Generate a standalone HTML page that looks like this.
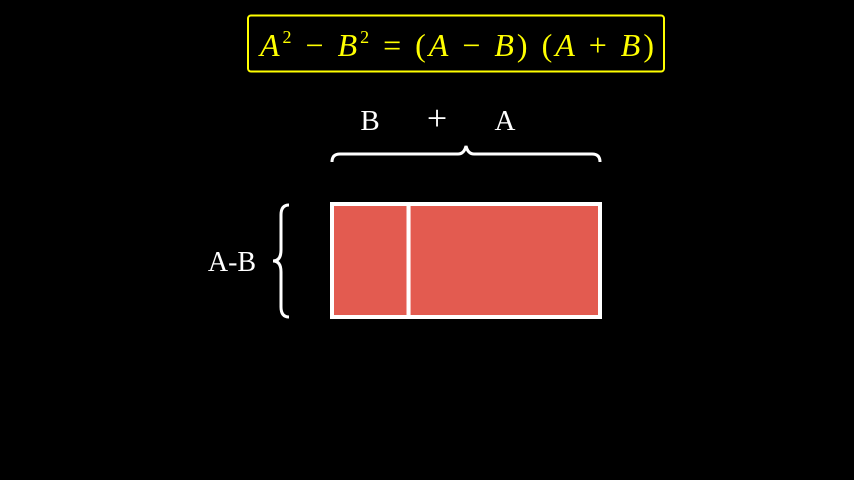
<!DOCTYPE html>
<html><head><meta charset="utf-8"><style>
html,body{margin:0;padding:0;background:#000;width:854px;height:480px;overflow:hidden}
svg{display:block}
text{font-family:"Liberation Serif",serif}
</style></head><body>
<svg id="c" width="854" height="480" viewBox="0 0 854 480">
<rect x="248" y="15.5" width="416" height="56" rx="3" fill="none" stroke="#ffff00" stroke-width="2"/>
<text x="260" y="56" textLength="394" lengthAdjust="spacing" fill="#ffff00" font-size="32"><tspan font-style="italic">A</tspan><tspan font-size="18" dy="-13">2</tspan><tspan dy="13"> − </tspan><tspan font-style="italic">B</tspan><tspan font-size="18" dy="-13">2</tspan><tspan dy="13"> = (</tspan><tspan font-style="italic">A</tspan> − <tspan font-style="italic">B</tspan>) (<tspan font-style="italic">A</tspan> + <tspan font-style="italic">B</tspan>)</text>
<g id="top-labels"></g>
<path d="M332,162 Q332,154 340,154 L458,154 Q464,154 466,146 Q468,154 474,154 L592,154 Q600,154 600,162" fill="none" stroke="#fff" stroke-width="3"/>
<path d="M289,205 Q281,205 281,215 L281,250 Q281,261 273,261 Q281,261 281,272 L281,307 Q281,317 289,317" fill="none" stroke="#fff" stroke-width="3"/>
<text x="232" y="271" text-anchor="middle" fill="#fff" font-size="28">A-B</text>
<g id="bars"></g>
</svg>
<script>
const segments = ["B", "A"];
const widths = [1, 2.5];
const labelOps = ["B", "+", "A"];
const x0 = 332, totalW = 268, y0 = 204, h = 113;
const sum = widths.reduce((a, b) => a + b, 0);
const sx = v => v / sum * totalW;
const NS = "http://www.w3.org/2000/svg";
const g = document.getElementById("bars");
let x = x0;
widths.forEach((w, i) => {
  const r = document.createElementNS(NS, "rect");
  r.setAttribute("x", x); r.setAttribute("y", y0);
  r.setAttribute("width", sx(w)); r.setAttribute("height", h);
  r.setAttribute("fill", "#e35b50"); r.setAttribute("stroke", "#fff"); r.setAttribute("stroke-width", "4");
  
  
  g.appendChild(r);
  x += sx(w);
});
const tl = document.getElementById("top-labels");
const lx = [370, 437, 505];
labelOps.forEach((t, i) => {
  const e = document.createElementNS(NS, "text");
  e.setAttribute("x", lx[i]); e.setAttribute("y", 130);
  e.setAttribute("text-anchor", "middle"); e.setAttribute("fill", "#fff");
  e.setAttribute("font-size", t === "+" ? "36" : "29");
  e.textContent = t;
  
  
  tl.appendChild(e);
});
</script>
</body></html>
